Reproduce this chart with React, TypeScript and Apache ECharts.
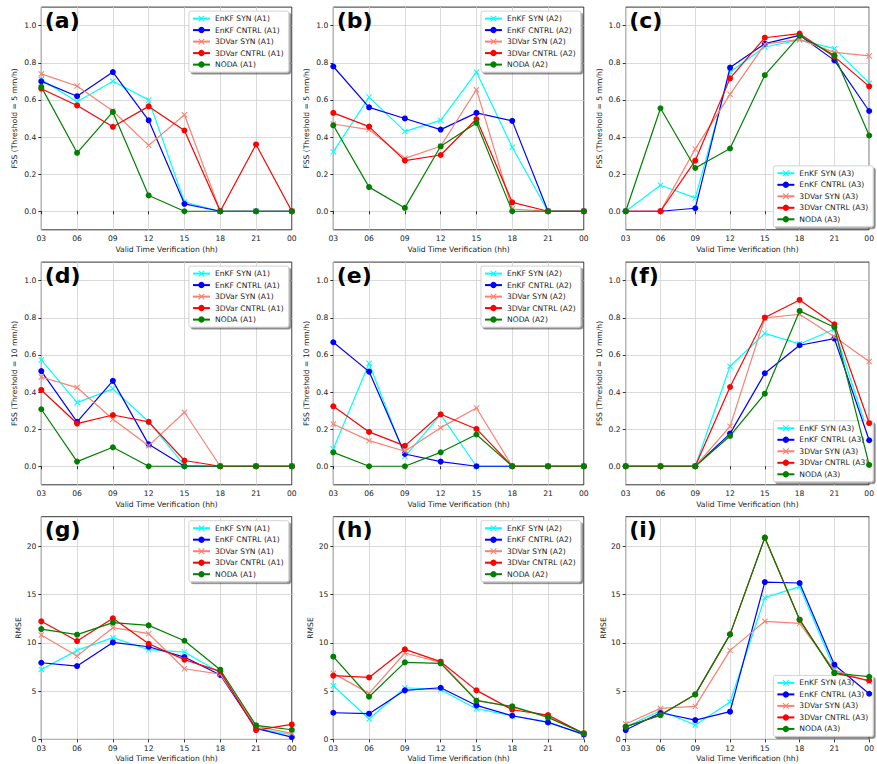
import React, { useEffect, useRef } from "react";
import * as echarts from "echarts";

// Verification hours along the x axis
const hours = ["03", "06", "09", "12", "15", "18", "21", "00"];
const experiments = ["EnKF SYN", "EnKF CNTRL", "3DVar SYN", "3DVar CNTRL", "NODA"];
const fssTicks = [0, 0.2, 0.4, 0.6, 0.8, 1.0];
const rmseTicks = [0, 5, 10, 15, 20];
const panelLetters = ["(a)", "(b)", "(c)", "(d)", "(e)", "(f)", "(g)", "(h)", "(i)"];
const areas = ["A1", "A2", "A3"];
const rowYNames = ["FSS (Threshold = 5 mm/h)", "FSS (Threshold = 10 mm/h)", "RMSE"];
const xName = "Valid Time Verification (hh)";

// Rows follow the experiment order: EnKF SYN, EnKF CNTRL, 3DVar SYN, 3DVar CNTRL, NODA
// FSS, threshold 5 mm/h
const fss5A1 = [
  [0.71, 0.59, 0.70, 0.60, 0.05, 0, 0, 0],
  [0.70, 0.62, 0.75, 0.49, 0.04, 0, 0, 0],
  [0.74, 0.675, 0.54, 0.355, 0.52, 0, 0, 0],
  [0.66, 0.57, 0.455, 0.565, 0.435, 0, 0.36, 0],
  [0.67, 0.315, 0.535, 0.085, 0, 0, 0, 0],
];
const fss5A2 = [
  [0.32, 0.615, 0.43, 0.49, 0.75, 0.345, 0, 0],
  [0.78, 0.56, 0.50, 0.44, 0.53, 0.487, 0, 0],
  [0.47, 0.44, 0.285, 0.35, 0.655, 0.012, 0, 0],
  [0.53, 0.456, 0.273, 0.303, 0.497, 0.048, 0, 0],
  [0.463, 0.13, 0.018, 0.35, 0.476, 0, 0, 0],
];
const fss5A3 = [
  [0, 0.14, 0.072, 0.75, 0.885, 0.923, 0.876, 0.69],
  [0, 0, 0.016, 0.774, 0.903, 0.948, 0.813, 0.54],
  [0, 0, 0.336, 0.63, 0.90, 0.926, 0.856, 0.837],
  [0, 0, 0.273, 0.716, 0.935, 0.957, 0.833, 0.673],
  [0, 0.555, 0.233, 0.338, 0.733, 0.946, 0.84, 0.408],
];
// FSS, threshold 10 mm/h
const fss10A1 = [
  [0.573, 0.343, 0.417, 0.24, 0.005, 0, 0, 0],
  [0.513, 0.239, 0.46, 0.118, 0, 0, 0, 0],
  [0.481, 0.424, 0.253, 0.111, 0.291, 0, 0, 0],
  [0.411, 0.23, 0.276, 0.239, 0.031, 0, 0, 0],
  [0.307, 0.025, 0.102, 0, 0, 0, 0, 0],
];
const fss10A2 = [
  [0.093, 0.555, 0.052, 0.278, 0, 0, 0, 0],
  [0.668, 0.51, 0.066, 0.025, 0, 0, 0, 0],
  [0.228, 0.138, 0.081, 0.208, 0.314, 0, 0, 0],
  [0.323, 0.185, 0.11, 0.28, 0.201, 0, 0, 0],
  [0.075, 0, 0, 0.075, 0.171, 0, 0, 0],
];
const fss10A3 = [
  [0, 0, 0, 0.539, 0.716, 0.659, 0.738, 0.16],
  [0, 0, 0, 0.176, 0.501, 0.652, 0.688, 0.14],
  [0, 0, 0, 0.215, 0.799, 0.819, 0.698, 0.564],
  [0, 0, 0, 0.427, 0.801, 0.896, 0.765, 0.232],
  [0, 0, 0, 0.163, 0.391, 0.837, 0.749, 0.007],
];
// RMSE
const rmseA1 = [
  [7.25, 9.22, 10.54, 9.29, 9.05, 6.9, 1.14, 0.5],
  [7.94, 7.6, 10.05, 9.6, 8.53, 6.67, 1.14, 0.24],
  [10.81, 8.64, 11.57, 10.95, 7.32, 6.77, 1.38, 0.62],
  [12.23, 10.19, 12.54, 9.91, 8.26, 7.05, 0.97, 1.55],
  [11.43, 10.85, 12.09, 11.81, 10.22, 7.22, 1.45, 1.0],
];
const rmseA2 = [
  [5.56, 2.11, 5.35, 5.15, 3.18, 2.45, 1.83, 0.48],
  [2.76, 2.66, 5.08, 5.35, 3.52, 2.45, 1.76, 0.52],
  [6.84, 4.77, 8.95, 7.98, 4.08, 3.32, 2.42, 0.62],
  [6.6, 6.42, 9.33, 8.05, 5.08, 3.07, 2.52, 0.62],
  [8.57, 4.42, 7.98, 7.88, 4.01, 3.42, 2.28, 0.62],
];
const rmseA3 = [
  [1.31, 2.97, 1.49, 3.87, 14.68, 15.82, 7.3, 4.42],
  [0.97, 2.76, 2.0, 2.87, 16.3, 16.2, 7.74, 4.73],
  [1.59, 3.21, 3.42, 9.22, 12.23, 12.02, 7.18, 5.98],
  [1.31, 2.52, 4.66, 10.88, 20.9, 12.4, 6.87, 6.1],
  [1.31, 2.52, 4.66, 10.88, 20.9, 12.4, 6.87, 6.49],
];

const panels = [fss5A1, fss5A2, fss5A3, fss10A1, fss10A2, fss10A3, rmseA1, rmseA2, rmseA3];

const CROSS = "path://M0,1.2L1.2,0L5,3.8L8.8,0L10,1.2L6.2,5L10,8.8L8.8,10L5,6.2L1.2,10L0,8.8L3.8,5Z";
const seriesStyle = [
  { color: "#00ffff", symbol: CROSS },
  { color: "#0000ff", symbol: "circle" },
  { color: "#fa8072", symbol: CROSS },
  { color: "#ff0000", symbol: "circle" },
  { color: "#008000", symbol: "circle" },
];

const W = 877;
const H = 764;
const colLeft = [41.3, 333.3, 625.7];
const plotW = 250.5;
const rowTop = [7.1, 262.1, 516.7];
const plotH = 222.7;
const FONT = "DejaVu Sans";
const FS = 7.6;
const TXT = "#222";

export default function App() {
  const ref = useRef<HTMLDivElement>(null);

  useEffect(() => {
    if (!ref.current) return;
    const chart = echarts.init(ref.current, undefined, { renderer: "svg" });

    const grid: any[] = [];
    const xAxis: any[] = [];
    const yAxis: any[] = [];
    const series: any[] = [];
    const legend: any[] = [];
    const title: any[] = [];

    for (let p = 0; p < 9; p++) {
      const row = Math.floor(p / 3);
      const col = p % 3;
      const left = colLeft[col];
      const top = rowTop[row];
      const isRmse = row === 2;
      grid.push({
        left,
        top,
        width: plotW,
        height: plotH,
        show: true,
        borderColor: "#000",
        borderWidth: 0.8,
        backgroundColor: "transparent",
        containLabel: false,
      });
      xAxis.push({
        type: "category",
        gridIndex: p,
        data: hours,
        boundaryGap: false,
        name: xName,
        nameLocation: "middle",
        nameGap: 15.5,
        nameTextStyle: { fontFamily: FONT, fontSize: FS, color: TXT },
        axisLine: { show: false },
        axisTick: { show: true, inside: false, length: 3, interval: 0, lineStyle: { color: "#000", width: 0.8 } },
        axisLabel: { interval: 0, fontFamily: FONT, fontSize: FS, color: TXT, margin: 5 },
        splitLine: { show: true, interval: 0, lineStyle: { color: "#d0d0d0", width: 0.8 } },
      });
      const ticks = isRmse ? rmseTicks : fssTicks;
      yAxis.push({
        type: "value",
        gridIndex: p,
        min: isRmse ? 0 : -0.1,
        max: isRmse ? 23.07 : 1.1,
        name: rowYNames[row],
        nameLocation: "middle",
        nameRotate: 90,
        nameGap: isRmse ? 17 : 22.5,
        nameTextStyle: { fontFamily: FONT, fontSize: FS, color: TXT },
        axisLine: { show: false },
        axisTick: {
          show: true,
          length: 3,
          customValues: ticks,
          lineStyle: { color: "#000", width: 0.8 },
        },
        axisLabel: {
          customValues: ticks,
          fontFamily: FONT,
          fontSize: FS,
          color: TXT,
          margin: 5,
          formatter: (v: number) => (isRmse ? String(v) : v.toFixed(1)),
        },
        splitLine: { show: true, lineStyle: { color: "#d0d0d0", width: 0.8 } },
      });

      const names: string[] = [];
      panels[p].forEach((values, k) => {
        const name = `${experiments[k]} (${areas[col]})`;
        names.push(name);
        const st = seriesStyle[k];
        series.push({
          type: "line",
          name,
          xAxisIndex: p,
          yAxisIndex: p,
          data: values,
          symbol: st.symbol,
          symbolSize: 6,
          showSymbol: true,
          showAllSymbol: true,
          lineStyle: { color: st.color, width: 1.2 },
          itemStyle: { color: st.color },
          emphasis: { disabled: true },
          z: 3 + k,
        });
      });

      const bottomLegend = col === 2;
      const lg: any = {
        data: names,
        orient: "vertical",
        selectedMode: false,
        right: W - (left + plotW) + 3,
        itemWidth: 17,
        itemHeight: 8,
        itemGap: 2.5,
        padding: [3, 5, 3, 3],
        backgroundColor: "#fff",
        borderColor: "#c8c8c8",
        borderWidth: 0.8,
        borderRadius: 2,
        shadowColor: "rgba(0,0,0,0.45)",
        shadowBlur: 0,
        shadowOffsetX: 2,
        shadowOffsetY: 2,
        textStyle: { fontFamily: FONT, fontSize: FS, color: TXT, lineHeight: 9 },
      };
      if (bottomLegend) lg.bottom = H - (top + plotH) + 3;
      else lg.top = top + 4;
      legend.push(lg);

      title.push({
        text: panelLetters[p],
        left: left + 3.5,
        top: top + 2,
        padding: 0,
        textStyle: { fontFamily: FONT, fontSize: 22, fontWeight: "bold", color: "#000" },
      });
    }

    chart.setOption({
      animation: false,
      backgroundColor: "#fff",
      title,
      grid,
      xAxis,
      yAxis,
      legend,
      series,
    });

    return () => chart.dispose();
  }, []);

  return (
    <div
      ref={ref}
      style={{ position: "absolute", left: 0, top: 0, width: W, height: H, background: "#fff" }}
    />
  );
}
